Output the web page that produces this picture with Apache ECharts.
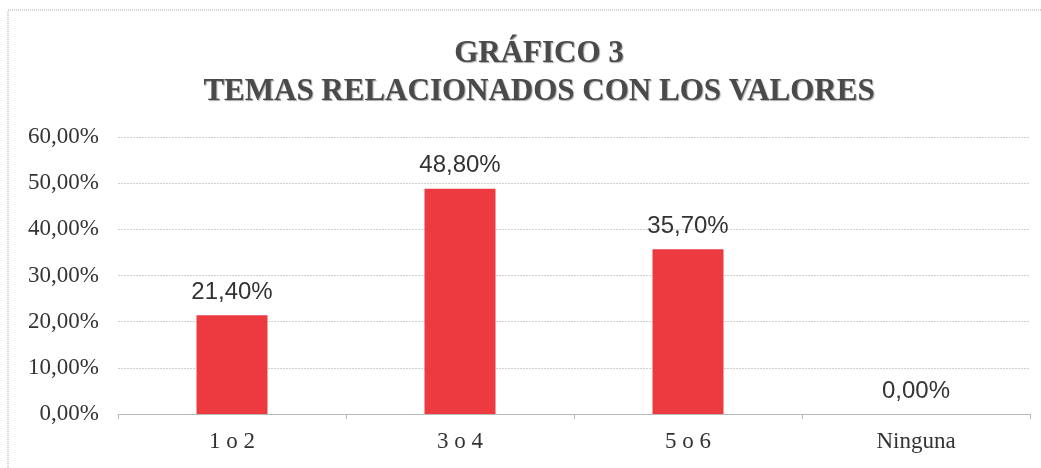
<!DOCTYPE html>
<html>
<head>
<meta charset="utf-8">
<script src="https://cdn.jsdelivr.net/npm/echarts@6/dist/echarts.min.js"></script>
<style>
html,body{margin:0;padding:0;background:#fff;}
#chart{width:1041px;height:468px;}
</style>
</head>
<body>
<div id="chart"></div>
<script>
const titleLine1 = 'GRÁFICO 3';
const titleLine2 = 'TEMAS RELACIONADOS CON LOS VALORES';
const categories = ['1 o 2', '3 o 4', '5 o 6', 'Ninguna'];
const values = [21.4, 48.8, 35.7, 0];
const yMin = 0, yMax = 60, yStep = 10;

function fmt(v){ return Number(v).toFixed(2).replace('.', ',') + '%'; }

const chart = echarts.init(document.getElementById('chart'), null, {renderer:'canvas'});
const titleStyle = {
  fontFamily: 'Liberation Serif', fontWeight: 'bold', fontSize: 31,
  color: '#4a4a4a', textShadowColor: 'rgba(0,0,0,0.35)', textShadowBlur: 1,
  textShadowOffsetX: 1, textShadowOffsetY: 1
};
chart.setOption({
  animation: false,
  backgroundColor: '#fff',
  graphic: [{
    type: 'rect', shape: {x: 8, y: 10, width: 1100, height: 500},
    style: {fill: 'none', stroke: '#a8a8a8', lineWidth: 1, lineDash: [1, 1]},
    silent: true, z: -1
  }],
  title: [
    {text: titleLine1, left: 534, textAlign: 'center', top: 33, textStyle: titleStyle},
    {text: titleLine2, left: 534, textAlign: 'center', top: 71, textStyle: titleStyle}
  ],
  grid: {left: 118, right: 11, top: 137, bottom: 54, containLabel: false},
  xAxis: {
    type: 'category', data: categories, boundaryGap: true,
    axisLine: {show: true, lineStyle: {color: '#b8b8b8', width: 1}},
    axisTick: {show: true, length: 5, lineStyle: {color: '#b8b8b8'}},
    axisLabel: {fontFamily: 'Liberation Serif', fontSize: 23, color: '#333', margin: 16}
  },
  yAxis: {
    type: 'value', min: yMin, max: yMax, interval: yStep,
    axisLine: {show: false}, axisTick: {show: false},
    splitLine: {lineStyle: {color: '#cfcfcf', type: [2, 1], width: 1}},
    axisLabel: {fontFamily: 'Liberation Serif', fontSize: 23, color: '#333', margin: 19, formatter: fmt}
  },
  series: [{
    type: 'bar', data: values, barWidth: 71,
    itemStyle: {color: '#EC3A40'},
    label: {
      show: true, position: 'top', distance: 11,
      fontFamily: 'Liberation Sans', fontSize: 24, color: '#333',
      formatter: p => fmt(p.value)
    }
  }]
});
</script>
</body>
</html>
